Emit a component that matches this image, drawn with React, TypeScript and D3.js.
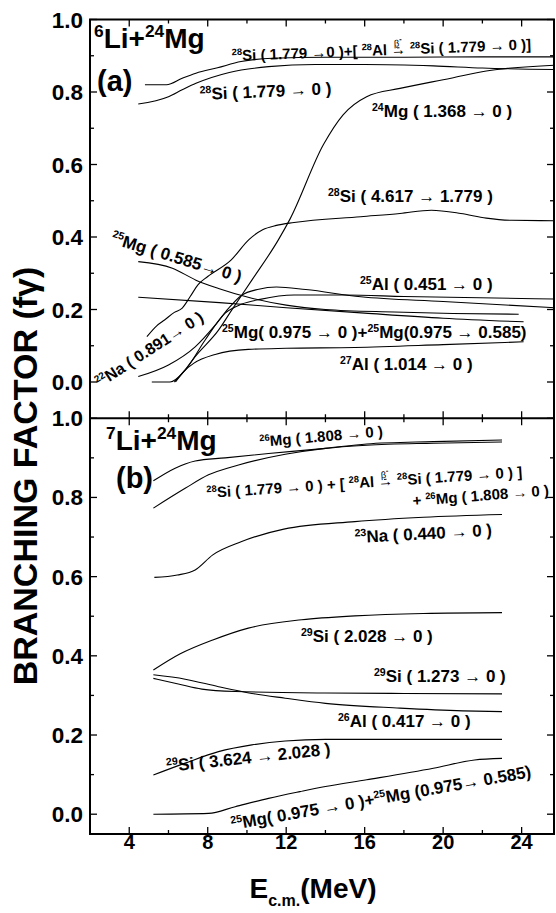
import React from 'react';
import * as d3 from 'd3';

// ---- data (E_cm in MeV, branching factor) ----
const xTicks = [4, 6, 8, 10, 12, 14, 16, 18, 20, 22, 24];
const xLabels = [4, 8, 12, 16, 20, 24];
const topYLabels = [0.0, 0.2, 0.4, 0.6, 0.8, 1.0];
const botYLabels = [0.0, 0.2, 0.4, 0.6, 0.8, 1.0];

// panel (a) 6Li+24Mg
const aSi1779Sum = [[4.8, 0.82], [5.9, 0.82], [6.7, 0.838], [7.4, 0.852], [8.5, 0.867], [9.7, 0.884], [11.3, 0.893], [14, 0.896], [18, 0.896], [22, 0.897], [25.65, 0.897]];
const aSi1779 = [[4.46, 0.767], [6.0, 0.787], [6.7, 0.806], [7.4, 0.824], [9.1, 0.854], [11.1, 0.87], [13.5, 0.876], [16, 0.876], [19.5, 0.872], [22, 0.866], [25.65, 0.862]];
const aMg1368 = [[6.3, 0.0], [6.8, 0.03], [7.36, 0.07], [8.55, 0.143], [9.23, 0.199], [10.25, 0.281], [11.6, 0.392], [12.2, 0.45], [13.9, 0.655], [14.9, 0.737], [16.1, 0.787], [17.8, 0.81], [20.4, 0.838], [22.2, 0.858], [25.65, 0.874]];
const aSi4617 = [[4.9, 0.125], [5.4, 0.155], [5.8, 0.171], [6.3, 0.192], [6.7, 0.204], [7.1, 0.235], [7.5, 0.268], [8.0, 0.291], [9.2, 0.337], [10.1, 0.393], [10.8, 0.42], [11.5, 0.432], [12.4, 0.44], [15.8, 0.456], [17.8, 0.465], [19.4, 0.474], [20.9, 0.465], [22.2, 0.452], [23.5, 0.446], [25.65, 0.445]];
const aMg585 = [[4.46, 0.332], [6.2, 0.314], [7.4, 0.281], [8.55, 0.258], [10.25, 0.231], [12, 0.212], [14, 0.2], [17.5, 0.193], [20.5, 0.189], [23.85, 0.187]];
const aAl451 = [[4.46, 0.234], [8.6, 0.219], [12, 0.205], [16, 0.19], [20, 0.176], [24.1, 0.166]];
const aNa891 = [[4.46, 0.015], [6.0, 0.047], [7.36, 0.097], [8.38, 0.157], [9.06, 0.203], [9.7, 0.238], [10.6, 0.256], [11.5, 0.262], [13, 0.255], [15.8, 0.235], [20, 0.222], [25.65, 0.205]];
const aMg975 = [[5.15, 0.0], [6.08, 0.0], [6.85, 0.033], [7.87, 0.116], [8.89, 0.19], [9.74, 0.215], [10.67, 0.228], [12.4, 0.24], [15, 0.24], [18, 0.236], [25.65, 0.229]];
const aAl1014 = [[6.36, 0.0], [6.8, 0.03], [7.3, 0.052], [8.38, 0.076], [10.07, 0.09], [12, 0.093], [15.5, 0.095], [20, 0.103], [24.1, 0.111]];

// panel (b) 7Li+24Mg
const bMg1808 = [[5.23, 0.842], [6.34, 0.874], [7.36, 0.892], [8.89, 0.9], [11.1, 0.911], [14, 0.924], [16.1, 0.935], [19.5, 0.941], [23, 0.945]];
const bSiSum = [[5.23, 0.773], [6.85, 0.823], [8.04, 0.857], [9.57, 0.882], [11.95, 0.909], [14, 0.924], [16.1, 0.932], [19.5, 0.937], [23, 0.94]];
const bNa440 = [[5.28, 0.598], [6.45, 0.604], [7.36, 0.617], [8.26, 0.655], [9.7, 0.688], [11.88, 0.72], [15.5, 0.739], [19, 0.75], [23, 0.757]];
const bSi2028 = [[5.23, 0.364], [6.6, 0.405], [8.26, 0.44], [10.07, 0.47], [12.79, 0.491], [15.5, 0.501], [19, 0.507], [23, 0.509]];
const bAl417 = [[5.23, 0.352], [6.85, 0.341], [8.55, 0.322], [10.25, 0.305], [11.95, 0.293], [14, 0.28], [17.8, 0.268], [21, 0.261], [23, 0.259]];
const bSi1273 = [[5.23, 0.343], [6.5, 0.329], [7.7, 0.316], [9.4, 0.31], [14, 0.306], [18, 0.305], [23, 0.304]];
const bSi3624 = [[5.23, 0.099], [6.85, 0.129], [8.55, 0.158], [10.25, 0.175], [11.95, 0.185], [14, 0.189], [18, 0.189], [23, 0.189]];
const bMg975 = [[5.23, 0.0], [8.04, 0.002], [9.4, 0.019], [11.1, 0.04], [12.7, 0.057], [14, 0.07], [16.1, 0.087], [19.5, 0.116], [21.6, 0.137], [23, 0.141]];

const topSeries = [aSi1779Sum, aSi1779, aMg1368, aSi4617, aMg585, aAl451, aNa891, aMg975, aAl1014];
const botSeries = [bMg1808, bSiSum, bNa440, bSi2028, bAl417, bSi1273, bSi3624, bMg975];

const W = 556;
const H = 913;
const FONT = "'Liberation Sans', Arial, Helvetica, sans-serif";

const x = d3.scaleLinear().domain([2, 25.65]).range([90, 554]);
const yTop = d3.scaleLinear().domain([-0.1, 1.0]).range([418.25, 19.5]);
const yBot = d3.scaleLinear().domain([-0.05, 1.0]).range([834, 418.25]);

// superscripted mass number + element
const Iso = ({ a, s, size }: { a: string; s: string; size: number }) => (
  <>
    <tspan fontSize={size * 0.62} dy={-size * 0.38}>{a}</tspan>
    <tspan dy={size * 0.38}>{s}</tspan>
  </>
);

// beta-minus decay arrow
const Beta = ({ size }: { size: number }) => (
  <>
    <tspan dx={3} dy={-size * 0.55} fontSize={size * 0.62} fontWeight="normal" textDecoration="underline">β</tspan>
    <tspan dy={-size * 0.3} fontSize={size * 0.5}>-</tspan>
    <tspan dx={-size * 0.75} dy={size * 0.85}>→</tspan>
  </>
);

const Panel = ({ y, series, labels }: { y: d3.ScaleLinear<number, number>; series: number[][][]; labels: number[] }) => {
  const line = d3.line<number[]>().x(d => x(d[0])).y(d => y(d[1])).curve(d3.curveMonotoneX);
  const [y0, y1] = y.range();
  const yTicks = d3.range(0, 1.0001, 0.1);
  return (
    <g>
      {series.map((s, i) => (
        <path key={i} d={line(s) || ''} fill="none" stroke="#000" strokeWidth={1.1} />
      ))}
      {yTicks.map((t, i) => {
        const len = i % 2 === 0 ? 7 : 4;
        return (
          <g key={i} stroke="#000" strokeWidth={1.3}>
            <line x1={x(2)} x2={x(2) + len} y1={y(t)} y2={y(t)} />
            <line x1={x(25.65)} x2={x(25.65) - len} y1={y(t)} y2={y(t)} />
          </g>
        );
      })}
      {xTicks.map((t, i) => {
        const len = t % 4 === 0 ? 7 : 4;
        return (
          <g key={i} stroke="#000" strokeWidth={1.3}>
            <line x1={x(t)} x2={x(t)} y1={y0} y2={y0 - len} />
            <line x1={x(t)} x2={x(t)} y1={y1} y2={y1 + len} />
          </g>
        );
      })}
      {labels.map((t, i) => (
        <text key={i} x={83} y={y(t) + 8} textAnchor="end" fontSize={22.5} fontWeight="bold" fontFamily={FONT}>
          {t.toFixed(1)}
        </text>
      ))}
    </g>
  );
};

export default function App() {
  const L = 17;
  const S = 15;
  return (
    <svg width={W} height={H} style={{ position: 'absolute', left: 0, top: 0, background: '#fff' }} fontFamily={FONT} fontWeight="bold">
      <rect width={W} height={H} fill="#fff" />
      <Panel y={yTop} series={topSeries} labels={topYLabels} />
      <Panel y={yBot} series={botSeries} labels={botYLabels} />
      {/* frame */}
      <rect x={x(2)} y={yTop(1.0)} width={x(25.65) - x(2)} height={yBot(-0.05) - yTop(1.0)} fill="none" stroke="#000" strokeWidth={2} />
      <line x1={x(2)} x2={x(25.65)} y1={yTop(-0.1)} y2={yTop(-0.1)} stroke="#000" strokeWidth={2.2} />

      {xLabels.map(t => (
        <text key={t} x={x(t)} y={849} textAnchor="middle" fontSize={20}>{t}</text>
      ))}

      {/* panel (a) labels */}
      <text x={94} y={48} fontSize={28}><Iso a="6" s="Li+" size={28} /><Iso a="24" s="Mg" size={28} /></text>
      <text x={97} y={91} fontSize={29}>(a)</text>
      <text transform="translate(232,61) rotate(-2.2)" fontSize={S}>
        <Iso a="28" s="Si ( 1.779 →0 )+[ " size={S} /><Iso a="28" s="Al " size={S} /><Beta size={S} /><tspan> </tspan><Iso a="28" s="Si ( 1.779 → 0 )]" size={S} />
      </text>
      <text transform="translate(200,100) rotate(-2.5)" fontSize={L}><Iso a="28" s="Si ( 1.779 → 0 )" size={L} /></text>
      <text x={372} y={117} fontSize={L}><Iso a="24" s="Mg ( 1.368 → 0 )" size={L} /></text>
      <text x={328} y={202} fontSize={L}><Iso a="28" s="Si ( 4.617 → 1.779 )" size={L} /></text>
      <text transform="translate(110,243) rotate(17)" fontSize={L}><Iso a="25" s="Mg ( 0.585→ 0 )" size={L} /></text>
      <text x={360} y={290} fontSize={L}><Iso a="25" s="Al ( 0.451 → 0 )" size={L} /></text>
      <text x={222} y={338} fontSize={L}><Iso a="25" s="Mg( 0.975 → 0 )+" size={L} /><Iso a="25" s="Mg(0.975 → 0.585)" size={L} /></text>
      <text x={340} y={370} fontSize={L}><Iso a="27" s="Al ( 1.014 → 0 )" size={L} /></text>
      <text transform="translate(100,388) rotate(-33)" fontSize={16}><Iso a="22" s="Na ( 0.891→ 0 )" size={16} /></text>

      {/* panel (b) labels */}
      <text x={106} y={450} fontSize={28}><Iso a="7" s="Li+" size={28} /><Iso a="24" s="Mg" size={28} /></text>
      <text x={116} y={488} fontSize={29}>(b)</text>
      <text transform="translate(260,447) rotate(-5)" fontSize={S}><Iso a="26" s="Mg ( 1.808 → 0 )" size={S} /></text>
      <text transform="translate(207,498) rotate(-3.8)" fontSize={S}>
        <Iso a="28" s="Si ( 1.779 → 0 ) + [ " size={S} /><Iso a="28" s="Al " size={S} /><Beta size={S} /><tspan> </tspan><Iso a="28" s="Si ( 1.779 → 0 ) ]" size={S} />
      </text>
      <text transform="translate(413,506) rotate(-4.5)" fontSize={S}><tspan>+ </tspan><Iso a="26" s="Mg ( 1.808 → 0 )" size={S} /></text>
      <text transform="translate(355,543) rotate(-3)" fontSize={L}><Iso a="23" s="Na ( 0.440 → 0 )" size={L} /></text>
      <text x={301} y={642} fontSize={L}><Iso a="29" s="Si ( 2.028 → 0 )" size={L} /></text>
      <text x={374} y={682} fontSize={L}><Iso a="29" s="Si ( 1.273 → 0 )" size={L} /></text>
      <text x={338} y={727} fontSize={L}><Iso a="26" s="Al ( 0.417 → 0 )" size={L} /></text>
      <text transform="translate(167,772) rotate(-6)" fontSize={L}><Iso a="29" s="Si ( 3.624 → 2.028 )" size={L} /></text>
      <text transform="translate(232,830) rotate(-10)" fontSize={17}><Iso a="25" s="Mg( 0.975 → 0 )+" size={17} /><Iso a="25" s="Mg (0.975→ 0.585)" size={17} /></text>

      {/* axis titles */}
      <text x={313} y={898} textAnchor="middle" fontSize={28}>
        E<tspan fontSize={16} dy={8}>c.m.</tspan><tspan dy={-8}>(MeV)</tspan>
      </text>
      <text transform="translate(37,476) rotate(-90)" textAnchor="middle" fontSize={34}>BRANCHING FACTOR  (fγ)</text>
    </svg>
  );
}
